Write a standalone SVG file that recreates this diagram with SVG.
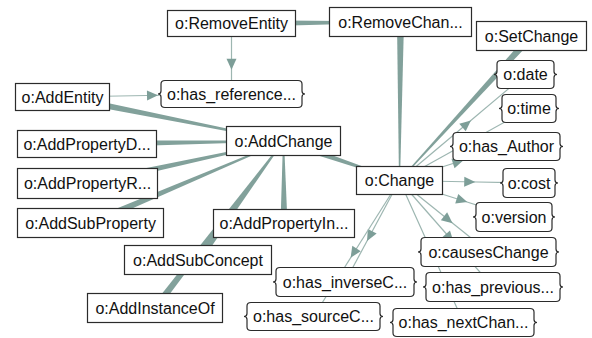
<svg xmlns="http://www.w3.org/2000/svg" width="592" height="338" viewBox="0 0 592 338">
<defs>
<style>
.bg{fill:#ffffff}
.thick{fill:#82a19b;stroke:none}
.thin{fill:none;stroke:#9db6b1;stroke-width:1.2;marker-mid:url(#ah)}
.box{fill:#ffffff;stroke:#2b2b2b;stroke-width:1.2}
.lbl{font-family:"Liberation Sans",Arial,sans-serif;font-size:16px;fill:#111;text-anchor:middle}
</style>
<marker id="ah" markerUnits="userSpaceOnUse" markerWidth="14" markerHeight="14" viewBox="0 -7 14 14" refX="0" refY="0" orient="auto" overflow="visible">
<path d="M0,-5 L11,0 L0,5 z" fill="#7d9e98"/>
</marker>
</defs>
<rect class="bg" x="0" y="0" width="592" height="338"/>
<g id="connectors">
<polygon class="thick" points="231.5,27 400.5,22.5 400.5,21.5 231.5,20"/>
<polygon class="thick" points="61.8,100.4 283.4,141.5 283.6,140.5 63.2,93.6"/>
<polygon class="thick" points="87,147.5 283.5,141.5 283.5,140.5 87,140.5"/>
<polygon class="thick" points="88.2,186.9 283.6,141.5 283.4,140.5 86.8,180.1"/>
<polygon class="thick" points="91.9,226.2 283.7,141.5 283.3,140.5 89.1,219.8"/>
<polygon class="thick" points="200.8,262 283.9,141.3 283.1,140.7 195.2,258"/>
<polygon class="thick" points="157.8,310.1 283.9,141.3 283.1,140.7 152.2,305.9"/>
<polygon class="thick" points="287.5,223.5 284,141 283,141 280.5,223.5"/>
<polygon class="thick" points="282.4,144.3 399.3,181 399.7,180 284.6,137.7"/>
<polygon class="thick" points="404,22 400,180.5 399,180.5 397,22"/>
<polygon class="thick" points="528.9,33.6 399.1,180.2 399.9,180.8 534.1,38.4"/>
<path class="thin" d="M231.5,23.5 L231.5,58.75 L231.5,94"/>
<path class="thin" d="M62.5,97 L147,95.5 L231.5,94"/>
<path class="thin" d="M399.5,180.5 L462.5,127.5 L525.5,74.5"/>
<path class="thin" d="M399.5,180.5 L464.25,144.5 L529,108.5"/>
<path class="thin" d="M399.5,180.5 L453,163.5 L506.5,146.5"/>
<path class="thin" d="M399.5,180.5 L464.25,181.75 L529,183"/>
<path class="thin" d="M399.5,180.5 L456.75,198.75 L514,217"/>
<path class="thin" d="M399.5,180.5 L444,216.25 L488.5,252"/>
<path class="thin" d="M399.5,180.5 L446.25,233.75 L493,287"/>
<path class="thin" d="M399.5,180.5 L431.5,251.5 L463.5,322.5"/>
<path class="thin" d="M399.5,180.5 L372.25,231.25 L345,282"/>
<path class="thin" d="M399.5,180.5 L356.5,248.5 L313.5,316.5"/>
</g>
<g id="RemoveEntity"><rect class="box" x="167.5" y="10.5" width="128" height="26"/><text class="lbl" x="231.5" y="29">o:RemoveEntity</text></g>
<g id="RemoveChange"><rect class="box" x="329.5" y="7.5" width="142" height="29"/><text class="lbl" x="400.5" y="27.5">o:RemoveChan...</text></g>
<g id="SetChange"><rect class="box" x="476.5" y="21.5" width="110" height="29"/><text class="lbl" x="531.5" y="41.5">o:SetChange</text></g>
<g id="AddEntity"><rect class="box" x="15.5" y="83.5" width="94" height="27"/><text class="lbl" x="62.5" y="102.5">o:AddEntity</text></g>
<g id="AddChange"><rect class="box" x="226.5" y="126.5" width="114" height="29"/><text class="lbl" x="283.5" y="146.5">o:AddChange</text></g>
<g id="AddPropertyD"><rect class="box" x="17.5" y="130.5" width="139" height="27"/><text class="lbl" x="87" y="149.5">o:AddPropertyD...</text></g>
<g id="AddPropertyR"><rect class="box" x="17.5" y="168.5" width="140" height="30"/><text class="lbl" x="87.5" y="189">o:AddPropertyR...</text></g>
<g id="AddSubProperty"><rect class="box" x="17.5" y="208.5" width="146" height="29"/><text class="lbl" x="90.5" y="228.5">o:AddSubProperty</text></g>
<g id="AddPropertyIn"><rect class="box" x="213.5" y="209.5" width="141" height="28"/><text class="lbl" x="284" y="229">o:AddPropertyIn...</text></g>
<g id="AddSubConcept"><rect class="box" x="124.5" y="245.5" width="147" height="29"/><text class="lbl" x="198" y="265.5">o:AddSubConcept</text></g>
<g id="AddInstanceOf"><rect class="box" x="87.5" y="293.5" width="135" height="29"/><text class="lbl" x="155" y="313.5">o:AddInstanceOf</text></g>
<g id="Change"><rect class="box" x="356.5" y="166.5" width="86" height="28"/><text class="lbl" x="399.5" y="186">o:Change</text></g>
<g id="has_reference"><path class="box" d="M165,80.5 H298 Q302,80.5 302,84 V91 Q302,94 305,94 Q302,94 302,97 V104 Q302,107.5 298,107.5 H165 Q161,107.5 161,104 V97 Q161,94 158,94 Q161,94 161,91 V84 Q161,80.5 165,80.5 Z"/><text class="lbl" x="231.5" y="99.5">o:has_reference...</text></g>
<g id="date"><path class="box" d="M501,60.5 H550 Q554,60.5 554,64 V71.5 Q554,74.5 557,74.5 Q554,74.5 554,77.5 V85 Q554,88.5 550,88.5 H501 Q497,88.5 497,85 V77.5 Q497,74.5 494,74.5 Q497,74.5 497,71.5 V64 Q497,60.5 501,60.5 Z"/><text class="lbl" x="525.5" y="80">o:date</text></g>
<g id="time"><path class="box" d="M506,94.5 H552 Q556,94.5 556,98 V105.5 Q556,108.5 559,108.5 Q556,108.5 556,111.5 V119 Q556,122.5 552,122.5 H506 Q502,122.5 502,119 V111.5 Q502,108.5 499,108.5 Q502,108.5 502,105.5 V98 Q502,94.5 506,94.5 Z"/><text class="lbl" x="529" y="114">o:time</text></g>
<g id="has_Author"><path class="box" d="M457,132.5 H556 Q560,132.5 560,136 V143.5 Q560,146.5 563,146.5 Q560,146.5 560,149.5 V157 Q560,160.5 556,160.5 H457 Q453,160.5 453,157 V149.5 Q453,146.5 450,146.5 Q453,146.5 453,143.5 V136 Q453,132.5 457,132.5 Z"/><text class="lbl" x="506.5" y="152">o:has_Author</text></g>
<g id="cost"><path class="box" d="M507,168.5 H551 Q555,168.5 555,172 V180 Q555,183 558,183 Q555,183 555,186 V194 Q555,197.5 551,197.5 H507 Q503,197.5 503,194 V186 Q503,183 500,183 Q503,183 503,180 V172 Q503,168.5 507,168.5 Z"/><text class="lbl" x="529" y="188.5">o:cost</text></g>
<g id="version"><path class="box" d="M480,202.5 H548 Q552,202.5 552,206 V214 Q552,217 555,217 Q552,217 552,220 V228 Q552,231.5 548,231.5 H480 Q476,231.5 476,228 V220 Q476,217 473,217 Q476,217 476,214 V206 Q476,202.5 480,202.5 Z"/><text class="lbl" x="514" y="222.5">o:version</text></g>
<g id="causesChange"><path class="box" d="M425,237.5 H552 Q556,237.5 556,241 V249 Q556,252 559,252 Q556,252 556,255 V263 Q556,266.5 552,266.5 H425 Q421,266.5 421,263 V255 Q421,252 418,252 Q421,252 421,249 V241 Q421,237.5 425,237.5 Z"/><text class="lbl" x="488.5" y="257.5">o:causesChange</text></g>
<g id="has_previous"><path class="box" d="M430,272.5 H556 Q560,272.5 560,276 V284 Q560,287 563,287 Q560,287 560,290 V298 Q560,301.5 556,301.5 H430 Q426,301.5 426,298 V290 Q426,287 423,287 Q426,287 426,284 V276 Q426,272.5 430,272.5 Z"/><text class="lbl" x="493" y="292.5">o:has_previous...</text></g>
<g id="has_nextChange"><path class="box" d="M397,308.5 H530 Q534,308.5 534,312 V319.5 Q534,322.5 537,322.5 Q534,322.5 534,325.5 V333 Q534,336.5 530,336.5 H397 Q393,336.5 393,333 V325.5 Q393,322.5 390,322.5 Q393,322.5 393,319.5 V312 Q393,308.5 397,308.5 Z"/><text class="lbl" x="463.5" y="328">o:has_nextChan...</text></g>
<g id="has_inverseChange"><path class="box" d="M280,267.5 H410 Q414,267.5 414,271 V279 Q414,282 417,282 Q414,282 414,285 V293 Q414,296.5 410,296.5 H280 Q276,296.5 276,293 V285 Q276,282 273,282 Q276,282 276,279 V271 Q276,267.5 280,267.5 Z"/><text class="lbl" x="345" y="287.5">o:has_inverseC...</text></g>
<g id="has_sourceChange"><path class="box" d="M251,302.5 H376 Q380,302.5 380,306 V313.5 Q380,316.5 383,316.5 Q380,316.5 380,319.5 V327 Q380,330.5 376,330.5 H251 Q247,330.5 247,327 V319.5 Q247,316.5 244,316.5 Q247,316.5 247,313.5 V306 Q247,302.5 251,302.5 Z"/><text class="lbl" x="313.5" y="322">o:has_sourceC...</text></g>
</svg>
